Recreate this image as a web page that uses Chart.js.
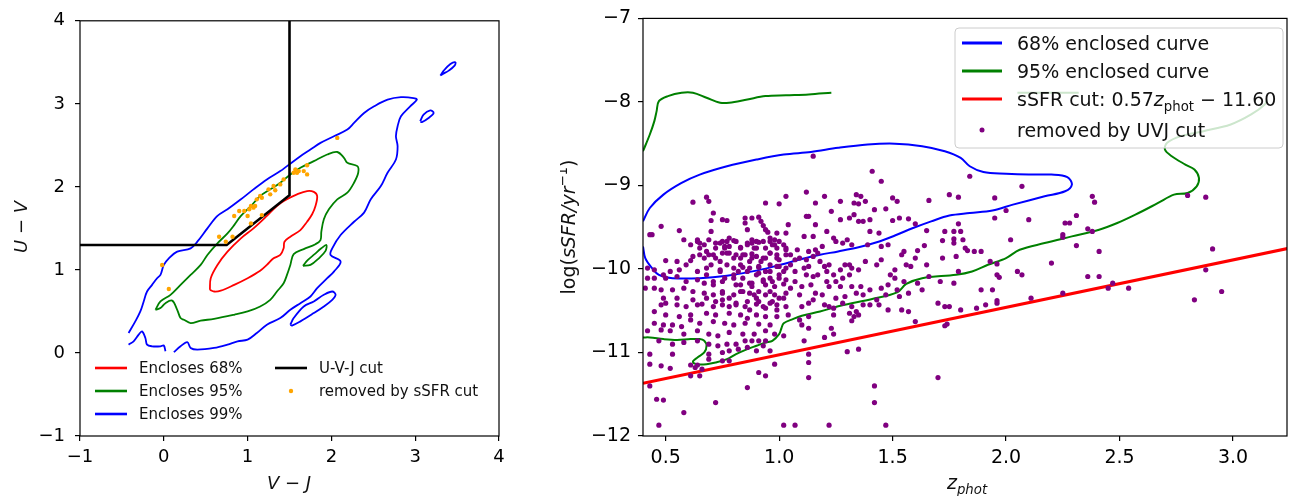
<!DOCTYPE html>
<html>
<head>
<meta charset="utf-8">
<script src="https://cdn.jsdelivr.net/npm/chart.js@4.4.1/dist/chart.umd.min.js"></script>
<style>
  html, body { margin: 0; padding: 0; background: #fff; }
  #wrap { position: relative; width: 1291px; height: 496px; overflow: hidden; }
  canvas { position: absolute; top: 0; }
  #uvj { left: 0; }
  #ssfr { left: 560px; }
</style>
</head>
<body>
<div id="wrap">
  <canvas id="uvj" width="520" height="496"></canvas>
  <canvas id="ssfr" width="731" height="496"></canvas>
</div>
<script>
// ---- left panel: U-V vs V-J ----
const uvTicks = [-1, 0, 1, 2, 3, 4];
const uvjCut = [[-1, 1.3], [0.75, 1.3], [1.5, 1.9], [1.5, 4]];
const c68 = [[0.55,0.76],[0.60,0.74],[0.68,0.75],[0.84,0.82],[1.00,0.90],[1.15,0.99],[1.23,1.06],[1.31,1.14],[1.39,1.18],[1.43,1.26],[1.44,1.34],[1.51,1.40],[1.63,1.48],[1.71,1.58],[1.77,1.67],[1.81,1.77],[1.83,1.89],[1.79,1.94],[1.71,1.95],[1.59,1.91],[1.47,1.85],[1.35,1.77],[1.23,1.65],[1.07,1.50],[0.92,1.38],[0.76,1.22],[0.64,1.06],[0.56,0.90],[0.55,0.76]];
const c95 = [[-0.10,0.52],[-0.04,0.62],[0.08,0.70],[0.20,0.82],[0.32,0.94],[0.44,1.06],[0.52,1.18],[0.64,1.32],[0.76,1.44],[0.84,1.54],[0.92,1.65],[1.04,1.77],[1.15,1.89],[1.27,1.97],[1.39,2.05],[1.51,2.15],[1.63,2.23],[1.79,2.31],[1.95,2.39],[2.07,2.42],[2.15,2.35],[2.19,2.29],[2.31,2.25],[2.32,2.17],[2.27,2.05],[2.19,1.93],[2.07,1.85],[1.97,1.73],[1.91,1.61],[1.88,1.46],[1.87,1.36],[1.81,1.31],[1.67,1.25],[1.55,1.19],[1.51,1.06],[1.47,0.94],[1.43,0.84],[1.35,0.74],[1.27,0.64],[1.15,0.56],[1.00,0.50],[0.84,0.46],[0.60,0.41],[0.44,0.39],[0.32,0.36],[0.24,0.40],[0.20,0.42],[0.16,0.52],[0.10,0.63],[0.02,0.60],[-0.04,0.54],[-0.10,0.52]];
const c95Island = [[1.66,1.05],[1.72,1.12],[1.80,1.19],[1.88,1.26],[1.94,1.30],[1.93,1.23],[1.85,1.14],[1.75,1.06],[1.66,1.05]];
const c99 = [[-0.42,0.24],[-0.34,0.38],[-0.28,0.50],[-0.24,0.62],[-0.20,0.74],[-0.14,0.82],[-0.08,0.90],[-0.04,0.94],[0.00,1.06],[0.06,1.14],[0.16,1.22],[0.32,1.26],[0.40,1.34],[0.52,1.50],[0.64,1.65],[0.76,1.73],[0.92,1.85],[1.07,1.97],[1.23,2.09],[1.39,2.19],[1.47,2.25],[1.63,2.37],[1.75,2.45],[1.87,2.53],[2.03,2.61],[2.19,2.69],[2.27,2.77],[2.39,2.89],[2.51,2.97],[2.67,3.05],[2.83,3.08],[2.98,3.07],[3.02,3.05],[2.94,2.97],[2.83,2.85],[2.79,2.73],[2.77,2.61],[2.79,2.49],[2.77,2.33],[2.67,2.17],[2.59,2.01],[2.47,1.85],[2.39,1.69],[2.27,1.58],[2.11,1.42],[2.01,1.26],[1.99,1.18],[2.11,1.10],[2.03,0.98],[1.95,0.90],[1.83,0.78],[1.75,0.68],[1.63,0.60],[1.51,0.52],[1.39,0.42],[1.23,0.34],[1.11,0.24],[1.00,0.16],[0.88,0.14],[0.76,0.10],[0.60,0.06],[0.40,0.04],[0.32,0.06],[0.28,0.13],[0.20,0.08],[0.12,0.01]];
const c99Tail = [[0.02,0.02],[0.00,0.09],[-0.04,0.08],[-0.14,0.08],[-0.20,0.10],[-0.22,0.18],[-0.26,0.26],[-0.30,0.22],[-0.36,0.14],[-0.42,0.10]];
const c99IslandA = [[3.30,3.34],[3.34,3.40],[3.42,3.48],[3.48,3.50],[3.47,3.46],[3.40,3.40],[3.33,3.36],[3.30,3.34]];
const c99IslandB = [[3.06,2.79],[3.10,2.87],[3.18,2.92],[3.22,2.89],[3.16,2.83],[3.08,2.78],[3.06,2.79]];
const c99IslandC = [[1.51,0.34],[1.55,0.42],[1.67,0.56],[1.79,0.62],[1.91,0.70],[2.01,0.74],[2.05,0.70],[2.01,0.64],[1.91,0.56],[1.79,0.48],[1.63,0.38],[1.53,0.33],[1.51,0.34]];
const removedBySsfr = [[2.07,2.59],[1.71,2.26],[1.67,2.19],[1.61,2.19],[1.57,2.21],[1.59,2.17],[1.55,2.17],[1.71,2.15],[1.43,2.09],[1.39,2.03],[1.31,2.01],[1.33,1.96],[1.25,1.97],[1.27,1.91],[1.17,1.87],[1.15,1.89],[1.11,1.85],[1.09,1.77],[1.07,1.75],[1.04,1.77],[1.02,1.73],[0.96,1.71],[0.90,1.71],[0.84,1.65],[1.00,1.65],[1.17,1.66],[1.04,1.56],[0.66,1.40],[0.82,1.40],[0.74,1.34],[-0.02,1.06],[0.06,0.77]];
const uvLegend = ['Encloses 68%', 'Encloses 95%', 'Encloses 99%', 'U-V-J cut', 'removed by sSFR cut'];

// ---- right panel: sSFR vs z_phot ----
const zTicks = [0.5, 1.0, 1.5, 2.0, 2.5, 3.0];
const sTicks = [-12, -11, -10, -9, -8, -7];
const e68 = [[0.40,-9.43],[0.43,-9.27],[0.49,-9.11],[0.57,-8.97],[0.65,-8.87],[0.77,-8.77],[0.90,-8.69],[1.02,-8.63],[1.14,-8.60],[1.26,-8.55],[1.39,-8.51],[1.51,-8.50],[1.63,-8.53],[1.73,-8.59],[1.80,-8.67],[1.84,-8.77],[1.90,-8.84],[2.00,-8.86],[2.10,-8.87],[2.20,-8.87],[2.27,-8.90],[2.29,-8.99],[2.26,-9.07],[2.17,-9.13],[2.03,-9.23],[1.94,-9.30],[1.84,-9.33],[1.75,-9.36],[1.67,-9.43],[1.59,-9.51],[1.51,-9.60],[1.43,-9.68],[1.35,-9.74],[1.26,-9.79],[1.18,-9.83],[1.10,-9.88],[1.02,-9.94],[0.90,-10.02],[0.77,-10.08],[0.65,-10.11],[0.53,-10.11],[0.47,-10.07],[0.44,-9.99],[0.41,-9.87],[0.40,-9.73]];
const e95Top = [[0.40,-8.59],[0.43,-8.39],[0.45,-8.23],[0.46,-8.11],[0.47,-7.99],[0.51,-7.93],[0.57,-7.89],[0.62,-7.89],[0.68,-7.95],[0.74,-8.01],[0.78,-8.01],[0.86,-7.97],[0.94,-7.93],[1.03,-7.92],[1.13,-7.91],[1.23,-7.89]];
const e95Low = [[0.40,-10.82],[0.43,-10.82],[0.49,-10.84],[0.55,-10.85],[0.61,-10.84],[0.65,-10.84],[0.67,-10.86],[0.68,-10.92],[0.67,-11.00],[0.64,-11.06],[0.62,-11.11],[0.64,-11.14],[0.68,-11.14],[0.72,-11.12],[0.77,-11.08],[0.81,-11.02],[0.86,-10.96],[0.90,-10.92],[0.94,-10.88],[0.97,-10.86],[1.00,-10.78],[1.01,-10.71],[1.02,-10.65],[1.06,-10.60],[1.10,-10.56],[1.18,-10.51],[1.27,-10.44],[1.41,-10.36],[1.52,-10.28],[1.56,-10.18],[1.63,-10.11],[1.78,-10.07],[1.85,-10.03],[1.92,-9.95],[2.00,-9.87],[2.06,-9.77],[2.17,-9.69],[2.29,-9.61],[2.41,-9.53],[2.49,-9.45],[2.57,-9.35],[2.67,-9.21],[2.74,-9.11],[2.80,-9.09],[2.84,-9.01],[2.85,-8.91],[2.83,-8.81],[2.79,-8.75],[2.73,-8.65],[2.70,-8.57],[2.71,-8.49],[2.77,-8.41],[2.87,-8.35],[2.99,-8.27],[3.08,-8.15],[3.14,-8.03],[3.15,-7.97]];
const e95Bit = [[2.05,-7.89],[2.32,-7.89]];
const ssfrCut = [[0.40,-11.37],[3.25,-9.75]];
const removedByUvj = [
  [0.62,-9.20],[0.68,-9.14],[0.69,-9.19],[0.94,-9.21],[1.00,-9.22],[1.03,-9.13],[1.12,-9.08],[1.16,-9.21],
  [0.71,-9.33],[0.70,-9.42],[0.75,-9.41],[0.77,-9.42],[0.85,-9.39],[0.88,-9.39],[0.91,-9.38],[0.92,-9.43],[0.93,-9.48],[0.85,-9.45],[0.86,-9.53],[0.94,-9.53],[0.95,-9.56],[0.99,-9.57],[1.04,-9.47],[1.03,-9.57],[1.12,-9.37],[1.13,-9.37],[1.16,-9.47],[1.15,-9.61],[1.11,-9.61],[0.48,-9.49],[0.56,-9.54],[0.70,-9.55],[0.43,-9.59],[0.44,-9.59],
  [0.58,-9.65],[0.64,-9.65],[0.65,-9.69],[0.67,-9.71],[0.61,-9.71],[0.72,-9.69],[0.75,-9.67],[0.77,-9.67],[0.80,-9.66],[0.78,-9.73],[0.83,-9.74],[0.86,-9.69],[0.88,-9.69],[0.90,-9.67],[0.91,-9.68],[0.96,-9.67],[0.97,-9.71],[0.98,-9.65],[1.00,-9.67],[1.02,-9.71],[1.03,-9.77],[1.08,-9.77],[1.13,-9.79],[1.16,-9.77],[0.72,-9.75],[0.76,-9.73],[0.90,-9.75],
  [0.50,-9.90],[0.55,-9.91],[0.61,-9.90],[0.62,-9.85],[0.65,-9.83],[0.68,-9.79],[0.69,-9.83],[0.72,-9.87],[0.75,-9.81],[0.78,-9.81],[0.81,-9.83],[0.83,-9.87],[0.85,-9.83],[0.88,-9.82],[0.88,-9.87],[0.92,-9.91],[0.94,-9.87],[0.96,-9.81],[0.99,-9.83],[1.00,-9.89],[1.05,-9.83],[1.07,-9.89],[1.09,-9.87],[1.12,-9.89],[1.15,-9.85],[1.17,-9.81],
  [0.45,-10.01],[0.52,-10.03],[0.56,-10.01],[0.59,-9.95],[0.64,-10.03],[0.68,-9.99],[0.70,-9.95],[0.74,-10.01],[0.77,-9.95],[0.80,-9.99],[0.82,-10.03],[0.84,-9.98],[0.87,-9.99],[0.91,-9.98],[0.91,-10.05],[0.96,-10.03],[0.99,-9.97],[1.02,-10.03],[1.03,-9.99],[1.07,-10.03],[1.11,-9.99],[1.13,-9.97],[1.15,-10.09],[1.17,-10.07],[0.42,-9.99],[0.49,-10.07],
  [0.42,-10.11],[0.45,-10.11],[0.50,-10.11],[0.55,-10.09],[0.59,-10.15],[0.64,-10.13],[0.67,-10.17],[0.71,-10.19],[0.75,-10.15],[0.80,-10.11],[0.83,-10.19],[0.87,-10.17],[0.88,-10.21],[0.93,-10.13],[0.94,-10.19],[0.97,-10.15],[1.00,-10.11],[1.02,-10.18],[1.05,-10.23],[1.07,-10.15],[1.10,-10.21],[1.12,-10.07],[1.14,-10.19],[1.16,-10.29],
  [0.41,-10.23],[0.45,-10.23],[0.48,-10.25],[0.53,-10.25],[0.58,-10.23],[0.62,-10.27],[0.67,-10.29],[0.71,-10.31],[0.75,-10.29],[0.80,-10.31],[0.84,-10.27],[0.87,-10.29],[0.91,-10.27],[0.96,-10.27],[0.98,-10.31],[1.03,-10.29],[1.09,-10.31],[0.49,-10.35],[0.55,-10.35],[0.62,-10.37],[0.75,-10.37],[0.90,-10.35],[1.00,-10.35],[1.15,-10.37],
  [0.64,-9.67],[0.65,-9.75],[0.69,-9.65],[0.74,-9.69],[0.76,-9.75],[0.78,-9.63],[0.81,-9.67],[0.83,-9.75],[0.86,-9.71],[0.88,-9.65],[0.89,-9.75],[0.93,-9.67],[0.94,-9.75],[0.96,-9.63],[0.98,-9.71],[0.99,-9.75],[1.03,-9.75],
  [0.67,-9.87],[0.71,-9.83],[0.74,-9.91],[0.77,-9.81],[0.80,-9.87],[0.83,-9.95],[0.84,-9.83],[0.87,-9.91],[0.90,-9.85],[0.91,-9.97],[0.93,-9.87],[0.96,-9.81],[0.96,-9.95],[0.99,-9.87],[1.00,-9.97],[1.03,-9.83],[1.05,-9.95],
  [0.68,-10.07],[0.71,-10.15],[0.74,-10.03],[0.76,-10.11],[0.80,-10.07],[0.81,-10.19],[0.84,-10.11],[0.86,-10.03],[0.88,-10.17],[0.90,-10.07],[0.93,-10.15],[0.94,-10.03],[0.96,-10.11],[0.98,-10.21],[1.00,-10.07],[1.03,-10.13],
  [0.68,-10.35],[0.72,-10.39],[0.75,-10.27],[0.78,-10.35],[0.81,-10.43],[0.83,-10.27],[0.86,-10.39],[0.87,-10.49],[0.89,-10.31],[0.91,-10.39],[0.94,-10.47],[0.94,-10.31],[0.97,-10.39],[0.99,-10.49],[1.02,-10.35],
  [0.48,-10.43],[0.50,-10.41],[0.55,-10.43],[0.59,-10.45],[0.64,-10.43],[0.66,-10.42],[0.71,-10.45],[0.75,-10.43],[0.78,-10.45],[0.81,-10.41],[0.85,-10.45],[0.90,-10.42],[0.93,-10.45],[0.96,-10.41],[0.99,-10.43],[1.03,-10.45],[1.10,-10.45],[1.13,-10.41],
  [0.45,-10.51],[0.50,-10.55],[0.56,-10.57],[0.61,-10.55],[0.68,-10.53],[0.72,-10.55],[0.78,-10.53],[0.83,-10.55],[0.86,-10.59],[0.90,-10.55],[0.94,-10.57],[0.99,-10.57],[1.04,-10.55],[1.09,-10.61],[1.13,-10.57],
  [0.45,-10.65],[0.49,-10.67],[0.53,-10.67],[0.57,-10.69],[0.61,-10.61],[0.65,-10.65],[0.71,-10.63],[0.76,-10.65],[0.80,-10.67],[0.85,-10.65],[0.91,-10.66],[0.96,-10.67],[1.10,-10.67],[1.13,-10.71],
  [0.42,-10.74],[0.48,-10.73],[0.52,-10.74],[0.58,-10.78],[0.64,-10.74],[0.69,-10.78],[0.73,-10.80],[0.78,-10.76],[0.84,-10.78],[0.89,-10.78],[0.94,-10.74],[0.98,-10.78],[1.02,-10.80],
  [0.47,-10.86],[0.53,-10.90],[0.58,-10.88],[0.64,-10.86],[0.69,-10.90],[0.73,-10.92],[0.77,-10.90],[0.81,-10.90],[0.85,-10.86],[0.88,-10.86],[0.91,-10.86],[0.94,-10.86],[1.11,-10.86],
  [0.43,-11.02],[0.53,-11.02],[0.69,-11.02],[0.75,-11.00],[0.78,-10.98],[0.82,-10.96],[0.86,-10.94],[0.90,-10.98],[0.93,-10.92],[0.96,-10.98],[1.13,-11.02],
  [0.43,-11.14],[0.48,-11.16],[0.52,-11.19],[0.61,-11.15],[0.63,-11.18],[0.64,-11.15],[0.66,-11.20],[0.75,-11.10],[0.78,-11.10],[0.69,-11.08],
  [0.61,-11.28],[0.65,-11.28],[0.91,-11.24],[0.94,-11.28],[0.98,-11.14],[1.13,-11.12],[1.13,-11.30],
  [0.43,-11.40],[0.46,-11.56],[0.49,-11.57],[0.86,-11.42],[0.72,-11.60],[0.58,-11.72],[0.47,-11.87],[1.02,-11.87],[1.07,-11.87],
  [1.15,-8.65],[1.41,-8.83],[1.45,-8.95],[1.84,-8.89],[1.20,-9.13],[1.27,-9.19],[1.34,-9.11],[1.36,-9.13],[1.33,-9.21],[1.35,-9.22],[1.38,-9.19],[1.23,-9.31],[1.42,-9.29],[1.50,-9.15],[1.52,-9.19],[1.47,-9.28],[1.66,-9.18],[1.75,-9.11],[1.79,-9.14],
  [1.21,-9.55],[1.27,-9.41],[1.31,-9.39],[1.33,-9.35],[1.35,-9.43],[1.37,-9.43],[1.40,-9.41],[1.40,-9.55],[1.44,-9.57],[1.50,-9.42],[1.53,-9.39],[1.57,-9.40],[1.60,-9.46],[1.65,-9.54],[1.73,-9.55],[1.77,-9.55],[1.80,-9.55],[1.79,-9.46],
  [1.19,-9.73],[1.24,-9.63],[1.25,-9.67],[1.28,-9.69],[1.30,-9.65],[1.32,-9.71],[1.39,-9.71],[1.45,-9.73],[1.48,-9.71],[1.55,-9.79],[1.54,-9.83],[1.61,-9.78],[1.64,-9.72],[1.72,-9.66],[1.77,-9.69],[1.77,-9.64],[1.81,-9.65],[1.82,-9.75],[1.83,-9.78],[1.86,-9.79],[1.89,-9.79],[1.56,-9.95],
  [1.18,-9.91],[1.20,-9.97],[1.22,-9.95],[1.21,-10.03],[1.24,-10.07],[1.27,-10.01],[1.29,-9.95],[1.31,-9.95],[1.32,-9.99],[1.35,-10.01],[1.38,-9.91],[1.43,-9.95],[1.45,-9.89],[1.49,-10.07],[1.51,-10.11],[1.51,-10.01],[1.58,-9.97],[1.60,-9.87],[1.65,-9.95],[1.72,-9.87],[1.78,-9.85],[1.79,-10.03],
  [1.21,-10.15],[1.22,-10.21],[1.25,-10.15],[1.27,-10.21],[1.28,-10.11],[1.31,-10.07],[1.32,-10.21],[1.36,-10.21],[1.40,-10.25],[1.45,-10.23],[1.48,-10.19],[1.52,-10.25],[1.55,-10.15],[1.61,-10.17],[1.66,-10.09],[1.71,-10.15],[1.77,-10.17],[1.89,-10.25],
  [1.19,-10.31],[1.25,-10.35],[1.29,-10.33],[1.34,-10.29],[1.37,-10.31],[1.43,-10.37],[1.47,-10.31],[1.53,-10.33],[1.63,-10.25],[1.57,-10.29],
  [1.20,-10.43],[1.22,-10.45],[1.24,-10.47],[1.28,-10.41],[1.32,-10.45],[1.34,-10.51],[1.31,-10.53],[1.33,-10.57],[1.37,-10.43],[1.40,-10.43],[1.44,-10.43],[1.48,-10.49],[1.54,-10.49],[1.57,-10.51],[1.60,-10.63],[1.70,-10.41],[1.73,-10.45],[1.75,-10.45],[1.80,-10.49],[1.87,-10.47],[1.91,-10.43],
  [1.24,-10.55],[1.32,-10.62],[1.35,-10.55],[1.23,-10.71],[1.24,-10.78],[1.20,-10.82],[1.73,-10.68],[1.74,-10.66],[1.30,-10.99],[1.35,-10.96],[1.70,-11.30],[1.42,-11.40],[1.42,-11.60],[1.22,-11.87],[1.47,-11.87],
  [2.07,-9.01],[1.95,-9.15],[2.00,-9.30],[1.95,-9.39],[2.10,-9.41],[2.38,-9.13],[2.39,-9.20],[2.31,-9.36],[2.26,-9.45],[2.28,-9.45],[2.36,-9.52],[2.38,-9.55],[2.25,-9.59],[2.25,-9.62],[2.02,-9.65],[2.31,-9.72],[2.41,-9.79],
  [1.93,-9.91],[1.96,-9.94],[2.20,-9.93],[2.05,-10.03],[2.07,-10.07],[1.96,-10.07],[1.97,-10.10],[2.36,-10.09],[2.41,-10.09],[2.47,-10.17],[2.45,-10.23],[2.54,-10.23],[1.94,-10.25],[2.25,-10.29],[2.11,-10.35],[1.96,-10.38],[1.96,-10.41],
  [2.80,-9.12],[2.88,-9.14],[2.91,-9.76],[2.88,-10.01],[2.83,-10.37],[2.95,-10.27]
];
const zLegend = ['68% enclosed curve', '95% enclosed curve', 'sSFR cut', 'removed by UVJ cut'];

// ---- helpers ----
Chart.defaults.font.family = '"DejaVu Sans", sans-serif';
Chart.defaults.color = '#000';
const MINUS = '\u2212';
const fmtInt = v => (v < 0 ? MINUS + Math.abs(v) : String(v));
const fmtDec = v => (v < 0 ? MINUS : '') + Math.abs(v).toFixed(1);
const xy = arr => arr.map(p => ({ x: p[0], y: p[1] }));

function curve(arr, color, width, order, tension) {
  return { data: xy(arr), showLine: true, borderColor: color, borderWidth: width,
    pointRadius: 0, tension: tension === undefined ? 0.35 : tension, fill: false, order: order };
}
function dots(arr, color, r, order) {
  return { data: xy(arr), showLine: false, backgroundColor: color, borderWidth: 0,
    pointRadius: r, order: order };
}
function axis(min, max, ticks, fmt, size, pad, fit) {
  return {
    type: 'linear', min: min, max: max,
    afterBuildTicks: s => { s.ticks = ticks.map(v => ({ value: v })); },
    afterFit: fit,
    ticks: { callback: fmt, font: { size: size }, color: '#000', padding: pad, maxRotation: 0, autoSkip: false },
    grid: { drawOnChartArea: false, drawTicks: true, tickLength: 5, color: '#000', lineWidth: 1.2 },
    border: { display: false }
  };
}
// draws mixed normal / italic / sub / superscript text on one baseline
function rich(ctx, parts, x, y, size, align) {
  const font = p => (p.it ? 'italic ' : '') + (size * (p.sc || 1)).toFixed(1) + 'px "DejaVu Sans"';
  let w = 0;
  for (const p of parts) { ctx.font = font(p); w += ctx.measureText(p.t).width; }
  let cx = align === 'center' ? x - w / 2 : x;
  ctx.textAlign = 'left';
  ctx.textBaseline = 'alphabetic';
  for (const p of parts) {
    ctx.font = font(p);
    ctx.fillText(p.t, cx, y + (p.dy || 0) * size);
    cx += ctx.measureText(p.t).width;
  }
}
function frame(ctx, a) {
  ctx.strokeStyle = '#000';
  ctx.lineWidth = 1.2;
  ctx.strokeRect(a.left, a.top, a.right - a.left, a.bottom - a.top);
}
function handle(ctx, kind, color, x0, x1, y, lw, r) {
  if (kind === 'dot') {
    ctx.fillStyle = color;
    ctx.beginPath(); ctx.arc((x0 + x1) / 2, y, r, 0, Math.PI * 2); ctx.fill();
  } else {
    ctx.strokeStyle = color; ctx.lineWidth = lw;
    ctx.beginPath(); ctx.moveTo(x0, y); ctx.lineTo(x1, y); ctx.stroke();
  }
}

// ---- left chart ----
const uvDecor = {
  id: 'uvDecor',
  afterDatasetsDraw(chart) {
    const ctx = chart.ctx;
    ctx.save();
    frame(ctx, chart.chartArea);
    const kinds = ['line', 'line', 'line', 'line', 'dot'];
    const colors = ['red', 'green', 'blue', 'black', 'orange'];
    const rowsY = [368, 391, 414];
    uvLegend.forEach((label, i) => {
      const col = i < 3 ? 0 : 1, row = i < 3 ? i : i - 3;
      const hx = col === 0 ? 95 : 275, tx = col === 0 ? 139 : 319;
      handle(ctx, kinds[i], colors[i], hx, hx + 32, rowsY[row], 2.6, 2.2);
      ctx.fillStyle = '#111';
      rich(ctx, [{ t: label }], tx, rowsY[row] + 5.4, 15, 'left');
    });
    ctx.fillStyle = '#111';
    rich(ctx, [{ t: 'V', it: 1 }, { t: ' ' + MINUS + ' ' }, { t: 'J', it: 1 }], 289, 489, 18, 'center');
    ctx.translate(27, 227);
    ctx.rotate(-Math.PI / 2);
    rich(ctx, [{ t: 'U', it: 1 }, { t: ' ' + MINUS + ' ' }, { t: 'V', it: 1 }], 0, 0, 18, 'center');
    ctx.restore();
  }
};

new Chart(document.getElementById('uvj'), {
  type: 'scatter',
  data: {
    datasets: [
      dots(removedBySsfr, 'orange', 2.2, 0),
      curve(uvjCut, 'black', 2.6, 1, 0),
      curve(c68, 'red', 1.8, 2),
      curve(c95, 'green', 1.8, 3),
      curve(c95Island, 'green', 1.8, 3),
      curve(c99, 'blue', 1.8, 4),
      curve(c99Tail, 'blue', 1.8, 4),
      curve(c99IslandA, 'blue', 1.8, 4),
      curve(c99IslandB, 'blue', 1.8, 4),
      curve(c99IslandC, 'blue', 1.8, 4)
    ]
  },
  options: {
    responsive: false, animation: false, events: [],
    layout: { padding: { top: 17, right: 21, left: 0, bottom: 0 } },
    plugins: { legend: { display: false }, tooltip: { enabled: false } },
    scales: {
      x: axis(-1, 4, uvTicks, fmtInt, 18, 6, s => { s.height = 60; }),
      y: axis(-1, 4, uvTicks, fmtInt, 18, 10, s => { s.width = 80; })
    }
  },
  plugins: [uvDecor]
});

// ---- right chart ----
const OFF = 560;
const zDecor = {
  id: 'zDecor',
  afterDatasetsDraw(chart) {
    const ctx = chart.ctx;
    ctx.save();
    frame(ctx, chart.chartArea);
    // legend box, semi-transparent like matplotlib
    const bx = 955 - OFF, by = 28, bw = 328, bh = 120, r = 4;
    ctx.beginPath();
    ctx.moveTo(bx + r, by);
    ctx.arcTo(bx + bw, by, bx + bw, by + bh, r);
    ctx.arcTo(bx + bw, by + bh, bx, by + bh, r);
    ctx.arcTo(bx, by + bh, bx, by, r);
    ctx.arcTo(bx, by, bx + bw, by, r);
    ctx.closePath();
    ctx.fillStyle = 'rgba(255,255,255,0.8)';
    ctx.fill();
    ctx.strokeStyle = '#cccccc';
    ctx.lineWidth = 1;
    ctx.stroke();
    const kinds = ['line', 'line', 'line', 'dot'];
    const colors = ['blue', 'green', 'red', 'purple'];
    const rowsY = [43, 71, 99, 130];
    zLegend.forEach((label, i) => {
      handle(ctx, kinds[i], colors[i], 962 - OFF, 1002 - OFF, rowsY[i], 3, 2.5);
      ctx.fillStyle = '#111';
      const parts = i === 2
        ? [{ t: label + ': 0.57' }, { t: 'z', it: 1 }, { t: 'phot', sc: 0.7, dy: 0.25 }, { t: ' ' + MINUS + ' 11.60' }]
        : [{ t: label }];
      rich(ctx, parts, 1017 - OFF, rowsY[i] + 6.8, 19, 'left');
    });
    ctx.fillStyle = '#111';
    rich(ctx, [{ t: 'z', it: 1 }, { t: 'phot', it: 1, sc: 0.7, dy: 0.25 }], 967 - OFF, 489, 19, 'center');
    ctx.translate(575 - OFF, 227);
    ctx.rotate(-Math.PI / 2);
    rich(ctx, [{ t: 'log(' }, { t: 'sSFR/yr', it: 1 }, { t: MINUS + '1', sc: 0.7, dy: -0.42 }, { t: ')' }], 0, 0, 19, 'center');
    ctx.restore();
  }
};

new Chart(document.getElementById('ssfr'), {
  type: 'scatter',
  data: {
    datasets: [
      dots(removedByUvj, 'purple', 2.6, 0),
      curve(ssfrCut, 'red', 3, 1, 0),
      curve(e68, 'blue', 2, 2),
      curve(e95Top, 'green', 2, 3),
      curve(e95Low, 'green', 2, 3),
      curve(e95Bit, 'green', 2, 3)
    ]
  },
  options: {
    responsive: false, animation: false, events: [],
    layout: { padding: { top: 17, right: 1, left: 0, bottom: 0 } },
    plugins: { legend: { display: false }, tooltip: { enabled: false } },
    scales: {
      x: axis(0.4, 3.238, zTicks, fmtDec, 19, 6, s => { s.height = 60; }),
      y: axis(-12, -7, sTicks, fmtInt, 19, 7, s => { s.width = 83; })
    }
  },
  plugins: [zDecor]
});
</script>
</body>
</html>
